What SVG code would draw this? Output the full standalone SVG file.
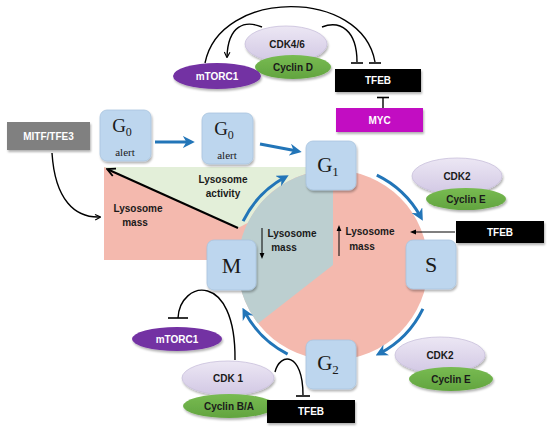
<svg xmlns="http://www.w3.org/2000/svg" width="550" height="429" viewBox="0 0 550 429">
<defs>
<style>
.lbl{font-family:"Liberation Sans",Arial,sans-serif;font-weight:bold;font-size:10px;fill:#1a1a1a;text-anchor:middle}
.wlbl{font-family:"Liberation Sans",Arial,sans-serif;font-weight:bold;font-size:10px;fill:#ffffff;text-anchor:middle}
.ph{font-family:"Liberation Serif","Times New Roman",serif;fill:#1a1a1a;text-anchor:middle}
.box{fill:#bdd6ee;stroke:#a9c4de;stroke-width:0.8;filter:url(#sh)}
.cdk{fill:url(#gcdk);stroke:#c9c0dc;stroke-width:0.8;filter:url(#sh)}
.cyc{fill:url(#gcyc);filter:url(#sh)}
.mtor{fill:#7330a3;filter:url(#sh)}
.tfeb{fill:#000000;filter:url(#sh)}
.blk{fill:none;stroke:#000;stroke-width:1.4}
.blue{fill:none;stroke:#2275b8;stroke-width:3;marker-end:url(#ab)}
</style>
<linearGradient id="gcdk" x1="0" y1="0" x2="0" y2="1"><stop offset="0" stop-color="#ece7f4"/><stop offset="1" stop-color="#d2c8e4"/></linearGradient>
<linearGradient id="gcyc" x1="0" y1="0" x2="0" y2="1"><stop offset="0" stop-color="#78bb52"/><stop offset="1" stop-color="#62a43f"/></linearGradient>
<filter id="sh" x="-20%" y="-20%" width="140%" height="150%"><feDropShadow dx="1" dy="2" stdDeviation="1.2" flood-color="#000" flood-opacity="0.3"/></filter>
<marker id="ab" viewBox="0 0 10 10" refX="6" refY="5" markerWidth="4" markerHeight="4" orient="auto" markerUnits="strokeWidth"><path d="M0,0 L10,5 L0,10 L3,5 Z" fill="#2275b8"/></marker>
<marker id="ak" viewBox="0 0 10 10" refX="8" refY="5" markerWidth="7" markerHeight="7" orient="auto" markerUnits="userSpaceOnUse"><path d="M1,1 L9,5 L1,9" fill="none" stroke="#000" stroke-width="1.6"/></marker>
<marker id="akf" viewBox="0 0 10 10" refX="8" refY="5" markerWidth="10" markerHeight="10" orient="auto" markerUnits="userSpaceOnUse"><path d="M1,1 L9,5 L1,9" fill="none" stroke="#000" stroke-width="1.8"/></marker>
<marker id="as" viewBox="0 0 10 10" refX="5" refY="5" markerWidth="6" markerHeight="6" orient="auto" markerUnits="userSpaceOnUse"><path d="M0,1 L10,5 L0,9 Z" fill="#000"/></marker>
</defs>

<g id="background">
<rect x="104" y="167" width="200" height="93" fill="#f4b9ae"/>
<polygon points="104,167 320,167 320,185 238,228" fill="#e3efd9"/>
<circle cx="333" cy="265" r="95" fill="#f4b9ae"/>
<path d="M333,265 L333,170 A95,95 0 0 0 258,323.5 Z" fill="#bccfd0"/>
</g>

<g id="labels">
<text class="lbl" x="138" y="212">Lysosome</text>
<text class="lbl" x="135" y="226">mass</text>
<text class="lbl" x="223" y="183">Lysosome</text>
<text class="lbl" x="223" y="197">activity</text>
<text class="lbl" x="292" y="237">Lysosome</text>
<text class="lbl" x="284" y="251">mass</text>
<text class="lbl" x="370" y="235">Lysosome</text>
<text class="lbl" x="362" y="250">mass</text>
</g>

<g id="connectors">
<line x1="238" y1="228" x2="108" y2="169.5" stroke="#000" stroke-width="2" marker-end="url(#akf)"/>
<path class="blk" d="M52,153 C55,200 75,218 100,217" marker-end="url(#ak)"/>
<line x1="262" y1="228" x2="262" y2="256" stroke="#000" stroke-width="1" marker-end="url(#as)"/>
<line x1="339" y1="256" x2="339" y2="228" stroke="#000" stroke-width="1" marker-end="url(#as)"/>
<line x1="455" y1="232" x2="413" y2="232" stroke="#000" stroke-width="1.2" marker-end="url(#as)"/>
<line x1="155" y1="142" x2="190" y2="142" class="blue"/>
<line x1="260" y1="144" x2="297" y2="151" class="blue"/>
<path class="blue" d="M243.1,221.2 A100,100 0 0 1 284.5,177.5"/>
<path class="blue" d="M376.8,175.1 A100,100 0 0 1 420.5,216.5"/>
<path class="blue" d="M422.9,308.8 A100,100 0 0 1 379.9,353.3"/>
<path class="blue" d="M287.6,354.1 A100,100 0 0 1 244.7,311.9"/>
<path class="blk" d="M205,63 C220,-12 362,-12 375,62"/>
<line x1="369" y1="63" x2="381" y2="63" stroke="#000" stroke-width="1.6"/>
<path class="blk" d="M262,27 C245,20 228,25 227,57" marker-end="url(#ak)"/>
<path class="blk" d="M322,27 C340,20 357,30 357,62"/>
<line x1="351" y1="63" x2="363" y2="63" stroke="#000" stroke-width="1.6"/>
<line x1="383" y1="108" x2="383" y2="98" stroke="#000" stroke-width="1.4"/>
<line x1="377" y1="97.5" x2="389" y2="97.5" stroke="#000" stroke-width="1.6"/>
<path class="blk" d="M235,360 C236,270 180,280 178,318"/>
<line x1="168" y1="318" x2="188" y2="318" stroke="#000" stroke-width="1.6"/>
<path class="blk" d="M275,372 C280,352 303,352 303,395"/>
<line x1="296" y1="396" x2="310" y2="396" stroke="#000" stroke-width="1.6"/>
</g>

<g id="mitf"><rect x="7" y="122" width="83" height="28" fill="#808080" filter="url(#sh)"/><text class="wlbl" x="48.5" y="140">MITF/TFE3</text></g>

<g id="g0a"><rect class="box" x="100" y="110" width="51" height="51" rx="7"/><text class="ph" x="122" y="132" font-size="19">G<tspan font-size="12" dy="4">0</tspan></text><text class="ph" x="125" y="156" font-size="11">alert</text></g>
<g id="g0b"><rect class="box" x="202" y="113" width="51" height="51" rx="7"/><text class="ph" x="224" y="135" font-size="19">G<tspan font-size="12" dy="4">0</tspan></text><text class="ph" x="227" y="159" font-size="11">alert</text></g>
<g id="g1"><rect class="box" x="306" y="141" width="50" height="49" rx="7"/><text class="ph" x="328" y="172" font-size="21">G<tspan font-size="13" dy="4">1</tspan></text></g>
<g id="s"><rect class="box" x="406" y="240" width="50" height="49" rx="7"/><text class="ph" x="431" y="272" font-size="22">S</text></g>
<g id="m"><rect class="box" x="207" y="240" width="49" height="50" rx="7"/><text class="ph" x="231.5" y="273" font-size="22">M</text></g>
<g id="g2"><rect class="box" x="306" y="340" width="50" height="49" rx="7"/><text class="ph" x="328" y="370" font-size="21">G<tspan font-size="13" dy="4">2</tspan></text></g>

<g id="cdk46"><ellipse class="cdk" cx="286" cy="44" rx="41" ry="18"/><text class="lbl" x="287" y="48">CDK4/6</text></g>
<g id="cyclinD"><ellipse class="cyc" cx="293" cy="67" rx="38" ry="12"/><text class="lbl" x="293" y="71">Cyclin D</text></g>
<g id="mtorc1-top"><ellipse class="mtor" cx="217" cy="76" rx="44" ry="13"/><text class="wlbl" x="217" y="80">mTORC1</text></g>
<g id="tfeb-top"><rect class="tfeb" x="335" y="69" width="86" height="23"/><text class="wlbl" x="378" y="84">TFEB</text></g>
<g id="myc"><rect x="336" y="108" width="87" height="24" fill="#c209c2" filter="url(#sh)"/><text class="wlbl" x="379.5" y="124">MYC</text></g>

<g id="cdk2-top"><ellipse class="cdk" cx="457" cy="176" rx="45" ry="18"/><text class="lbl" x="457" y="180">CDK2</text></g>
<g id="cyclinE-top"><ellipse class="cyc" cx="466" cy="199" rx="40" ry="11"/><text class="lbl" x="466" y="203">Cyclin E</text></g>
<g id="tfeb-right"><rect class="tfeb" x="456" y="221" width="88" height="22"/><text class="wlbl" x="500" y="236">TFEB</text></g>

<g id="cdk2-bottom"><ellipse class="cdk" cx="440" cy="355" rx="45" ry="18"/><text class="lbl" x="440" y="359">CDK2</text></g>
<g id="cyclinE-bottom"><ellipse class="cyc" cx="451" cy="379" rx="42" ry="12"/><text class="lbl" x="451" y="383">Cyclin E</text></g>

<g id="mtorc1-bottom"><ellipse class="mtor" cx="177" cy="339" rx="45" ry="12"/><text class="wlbl" x="177" y="343">mTORC1</text></g>
<g id="cdk1"><ellipse class="cdk" cx="228" cy="378" rx="46" ry="17"/><text class="lbl" x="228" y="382">CDK 1</text></g>
<g id="cyclinBA"><ellipse class="cyc" cx="229" cy="406" rx="46" ry="12"/><text class="lbl" x="229" y="410">Cyclin B/A</text></g>
<g id="tfeb-bottom"><rect class="tfeb" x="267" y="400" width="88" height="23"/><text class="wlbl" x="311" y="415">TFEB</text></g>
</svg>
